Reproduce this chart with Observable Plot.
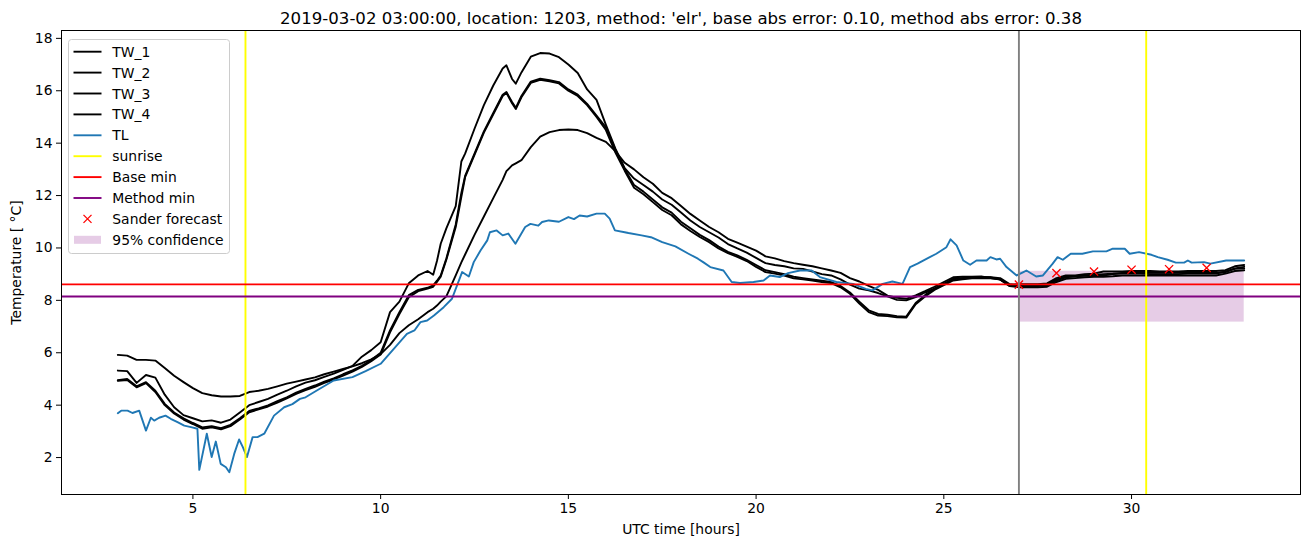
<!DOCTYPE html>
<html><head><meta charset="utf-8">
<script src="https://cdn.jsdelivr.net/npm/d3@7"></script>
<script src="https://cdn.jsdelivr.net/npm/@observablehq/plot@0.6"></script>
<style>
body{margin:0;background:#fff;}
#wrap{position:relative;width:1311px;height:547px;font-family:"DejaVu Sans",sans-serif;}
#legend{position:absolute;left:68px;top:39px;}
</style></head><body><div id="wrap"></div>
<script>
const titleText = "2019-03-02 03:00:00, location: 1203, method: 'elr', base abs error: 0.10, method abs error: 0.38";
const xLabel = "UTC time [hours]";
const yLabel = "Temperature [ °C]";
const xTicks = [5, 10, 15, 20, 25, 30];
const yTicks = [2, 4, 6, 8, 10, 12, 14, 16, 18];

const twHours = [
  3, 3.25, 3.5, 3.75, 4, 4.25, 4.5, 4.75, 5, 5.25,
  5.5, 5.75, 6, 6.25, 6.5, 6.75, 7, 7.25, 7.5, 7.75,
  8, 8.25, 8.5, 8.75, 9, 9.25, 9.5, 9.75, 10, 10.25,
  10.5, 10.75, 11, 11.25, 11.4, 11.5, 11.6, 11.75, 12, 12.15,
  12.25, 12.5, 12.75, 13, 13.25, 13.35, 13.5, 13.6, 13.75, 14,
  14.25, 14.5, 14.75, 15, 15.25, 15.5, 15.75, 16, 16.25, 16.5,
  16.75, 17, 17.25, 17.5, 17.75, 18, 18.25, 18.5, 18.75, 19,
  19.25, 19.5, 19.75, 20, 20.25, 20.5, 20.75, 21, 21.25, 21.5,
  21.75, 22, 22.25, 22.5, 22.75, 23, 23.25, 23.5, 23.75, 24,
  24.25, 24.5, 24.75, 25, 25.25, 25.5, 25.75, 26, 26.25, 26.5,
  26.75, 27, 27.25, 27.5, 27.75, 28, 28.25, 28.5, 28.75, 29,
  29.25, 29.5, 29.75, 30, 30.25, 30.5, 30.75, 31, 31.25, 31.5,
  31.75, 32, 32.25, 32.5, 32.75, 33
];

const tw1 = [
  5.32, 5.30, 4.85, 5.15, 5.05, 4.40, 3.92, 3.62, 3.50, 3.38,
  3.42, 3.33, 3.45, 3.72, 4.00, 4.12, 4.24, 4.40, 4.55, 4.72,
  4.86, 4.95, 5.08, 5.20, 5.35, 5.50, 5.85, 6.10, 6.40, 7.55,
  7.95, 8.65, 8.95, 9.12, 8.98, 9.50, 10.16, 10.75, 11.60, 13.30,
  13.60, 14.55, 15.45, 16.20, 16.85, 16.97, 16.45, 16.27, 16.70, 17.30,
  17.44, 17.42, 17.28, 17.00, 16.68, 16.05, 15.65, 14.70, 13.80, 13.05,
  12.65, 12.40, 12.15, 11.85, 11.65, 11.35, 11.05, 10.80, 10.60, 10.40,
  10.15, 9.98, 9.82, 9.62, 9.42, 9.35, 9.30, 9.22, 9.20, 9.10,
  9.00, 8.95, 8.80, 8.60, 8.45, 8.38, 8.28, 8.15, 8.02, 8.00,
  8.12, 8.30, 8.45, 8.63, 8.82, 8.85, 8.88, 8.88, 8.88, 8.80,
  8.55, 8.55, 8.57, 8.57, 8.60, 8.80, 8.90, 8.92, 8.95, 8.97,
  9.00, 9.02, 9.05, 9.05, 9.05, 9.05, 9.05, 9.05, 9.05, 9.05,
  9.05, 9.05, 9.05, 9.08, 9.22, 9.28
];
const tw2 = [
  4.95, 5.00, 4.72, 4.88, 4.55, 4.05, 3.72, 3.50, 3.32, 3.15,
  3.20, 3.12, 3.25, 3.50, 3.78, 3.88, 3.99, 4.15, 4.30, 4.48,
  4.62, 4.75, 4.90, 5.02, 5.18, 5.33, 5.50, 5.72, 6.00, 6.85,
  7.55, 8.20, 8.40, 8.48, 8.57, 8.75, 8.95, 9.60, 10.90, 12.10,
  12.75, 13.60, 14.45, 15.15, 15.85, 15.95, 15.57, 15.35, 15.80, 16.35,
  16.46, 16.40, 16.33, 16.05, 15.85, 15.50, 15.05, 14.60, 13.75, 13.00,
  12.40, 12.15, 11.85, 11.55, 11.35, 11.00, 10.75, 10.50, 10.30, 10.05,
  9.85, 9.72, 9.55, 9.35, 9.15, 9.08, 9.00, 8.90, 8.85, 8.80,
  8.75, 8.70, 8.55, 8.30, 7.95, 7.62, 7.48, 7.45, 7.40, 7.38,
  7.90, 8.20, 8.45, 8.63, 8.80, 8.85, 8.88, 8.88, 8.88, 8.85,
  8.62, 8.55, 8.55, 8.55, 8.58, 8.75, 8.88, 8.92, 8.95, 8.95,
  8.95, 9.00, 9.02, 9.02, 9.02, 9.00, 9.00, 9.00, 9.00, 9.02,
  9.02, 9.02, 9.02, 9.10, 9.20, 9.22
];
const tw3 = [
  4.93, 4.96, 4.68, 4.84, 4.50, 4.00, 3.68, 3.45, 3.28, 3.10,
  3.15, 3.08, 3.20, 3.45, 3.73, 3.84, 3.95, 4.10, 4.26, 4.43,
  4.57, 4.70, 4.85, 4.98, 5.13, 5.28, 5.46, 5.68, 5.93, 6.78,
  7.48, 8.12, 8.35, 8.45, 8.52, 8.70, 8.90, 9.55, 10.80, 11.95,
  12.70, 13.55, 14.40, 15.10, 15.80, 15.92, 15.52, 15.30, 15.75, 16.30,
  16.42, 16.36, 16.28, 16.00, 15.80, 15.45, 15.00, 14.50, 13.65, 12.95,
  12.30, 12.05, 11.75, 11.45, 11.25, 10.90, 10.65, 10.42, 10.22, 9.98,
  9.80, 9.66, 9.50, 9.28, 9.08, 9.02, 8.95, 8.84, 8.80, 8.76,
  8.70, 8.66, 8.50, 8.25, 7.88, 7.55, 7.42, 7.40, 7.35, 7.34,
  7.85, 8.15, 8.40, 8.58, 8.76, 8.80, 8.84, 8.84, 8.84, 8.80,
  8.55, 8.50, 8.50, 8.50, 8.52, 8.70, 8.82, 8.85, 8.88, 8.90,
  8.90, 8.92, 8.95, 8.95, 8.95, 8.95, 8.95, 8.95, 8.95, 8.95,
  8.95, 8.95, 8.95, 9.02, 9.12, 9.15
];
const tw4 = [
  5.92, 5.89, 5.73, 5.73, 5.70, 5.42, 5.12, 4.88, 4.65, 4.46,
  4.38, 4.33, 4.33, 4.35, 4.50, 4.55, 4.62, 4.72, 4.82, 4.90,
  4.98, 5.06, 5.18, 5.28, 5.38, 5.48, 5.60, 5.75, 5.95, 6.30,
  6.75, 7.05, 7.28, 7.55, 7.68, 7.80, 7.95, 8.15, 8.95, 9.45,
  9.75, 10.50, 11.20, 11.90, 12.60, 12.93, 13.15, 13.23, 13.35, 13.85,
  14.25, 14.42, 14.50, 14.52, 14.50, 14.38, 14.20, 14.05, 13.70, 13.25,
  13.00, 12.70, 12.45, 12.10, 11.90, 11.60, 11.30, 11.05, 10.80, 10.60,
  10.35, 10.20, 10.05, 9.90, 9.68, 9.60, 9.50, 9.42, 9.36, 9.30,
  9.22, 9.14, 9.05, 8.85, 8.72, 8.55, 8.40, 8.18, 8.10, 8.06,
  8.19, 8.35, 8.52, 8.70, 8.88, 8.90, 8.90, 8.91, 8.85, 8.79,
  8.60, 8.62, 8.62, 8.62, 8.65, 8.85, 8.95, 8.95, 9.00, 9.02,
  9.10, 9.10, 9.10, 9.12, 9.12, 9.12, 9.10, 9.10, 9.10, 9.12,
  9.12, 9.12, 9.12, 9.15, 9.30, 9.35
];

const tlHours = [
  3.0, 3.09, 3.26, 3.39, 3.57, 3.75, 3.88, 3.97, 4.1, 4.27,
  4.41, 4.59, 4.77, 4.95, 5.12, 5.17, 5.37, 5.5, 5.61, 5.74,
  5.88, 5.97, 6.1, 6.23, 6.33, 6.44, 6.59, 6.72, 6.9, 7.16,
  7.43, 7.65, 7.85, 8.0, 8.3, 8.75, 9.25, 9.6, 10.0, 10.35,
  10.7, 10.9, 11.06, 11.24, 11.42, 11.68, 11.9, 12.0, 12.17, 12.35,
  12.48, 12.66, 12.84, 12.91, 13.09, 13.25, 13.4, 13.59, 13.85, 13.99,
  14.2, 14.3, 14.48, 14.75, 15.0, 15.15, 15.3, 15.5, 15.75, 15.97,
  16.1, 16.24, 16.5, 16.6, 16.95, 17.2, 17.5, 17.85, 18.2, 18.45,
  18.6, 18.78, 19.13, 19.35, 19.57, 19.93, 20.2, 20.37, 20.63, 20.85,
  21.17, 21.48, 21.7, 22.14, 22.58, 22.92, 23.1, 23.37, 23.63, 23.9,
  24.1, 24.3, 24.55, 24.8, 25.07, 25.18, 25.34, 25.52, 25.7, 25.87,
  26.14, 26.24, 26.4, 26.5, 26.67, 26.94, 27.12, 27.2, 27.46, 27.64,
  27.9, 28.03, 28.17, 28.38, 28.69, 28.97, 29.33, 29.5, 29.82, 29.95,
  30.2, 30.53, 30.7, 30.96, 31.18, 31.4, 31.5, 31.6, 31.93, 32.1,
  32.52, 33.0
];
const tl = [
  3.69, 3.79, 3.79, 3.70, 3.79, 3.03, 3.52, 3.41, 3.52, 3.60,
  3.48, 3.35, 3.22, 3.16, 3.10, 1.53, 2.91, 2.02, 2.61, 1.76,
  1.63, 1.44, 2.14, 2.69, 2.40, 2.02, 2.78, 2.78, 2.91, 3.60,
  3.92, 4.04, 4.24, 4.30, 4.56, 4.94, 5.07, 5.30, 5.58, 6.15,
  6.72, 6.85, 7.17, 7.23, 7.42, 7.74, 8.06, 8.44, 9.08, 8.91,
  9.46, 9.90, 10.29, 10.60, 10.67, 10.48, 10.55, 10.16, 10.80, 10.92,
  10.85, 10.99, 11.05, 11.00, 11.18, 11.10, 11.24, 11.20, 11.31, 11.31,
  11.12, 10.67, 10.60, 10.57, 10.48, 10.41, 10.22, 10.06, 9.78, 9.59,
  9.45, 9.27, 9.14, 8.70, 8.66, 8.70, 8.76, 8.95, 8.89, 9.04,
  9.14, 9.14, 8.89, 8.70, 8.63, 8.44, 8.38, 8.63, 8.72, 8.63,
  9.27, 9.40, 9.59, 9.78, 10.03, 10.33, 10.10, 9.52, 9.36, 9.52,
  9.52, 9.65, 9.56, 9.59, 9.27, 8.95, 9.08, 9.14, 8.91, 8.95,
  9.40, 9.65, 9.55, 9.78, 9.78, 9.87, 9.87, 9.97, 9.97, 9.78,
  9.84, 9.74, 9.65, 9.55, 9.44, 9.44, 9.52, 9.44, 9.46, 9.40,
  9.52, 9.52
];

const sunrise = [6.4, 30.39];
const baseMin = 8.61;
const methodMin = 8.15;
const forecastStart = 27.0;
const sanderHours = [27, 28, 29, 30, 31, 32];
const sanderValues = [8.60, 9.04, 9.10, 9.17, 9.19, 9.24];
const confStart = 27, confEnd = 33, confLow = 7.17, confHigh = 9.11;

const twSeries = [["TW_1", tw1], ["TW_2", tw2], ["TW_3", tw3], ["TW_4", tw4]];
const twData = [];
for (const [name, vals] of twSeries) {
  if (vals.length !== twHours.length) console.error(name, vals.length, twHours.length);
  vals.forEach((v, i) => twData.push({series: name, h: twHours[i], v}));
}
if (tl.length !== tlHours.length) console.error("TL", tl.length, tlHours.length);
const tlData = tl.map((v, i) => ({h: tlHours[i], v}));
const sanderData = sanderValues.map((v, i) => ({h: sanderHours[i], v}));
const confData = [{x1: confStart, x2: confEnd, y1: confLow, y2: confHigh}];

const FS = 13.9;
const chart = Plot.plot({
  width: 1311, height: 547,
  marginLeft: 61, marginRight: 11, marginTop: 30, marginBottom: 53,
  style: {fontFamily: "DejaVu Sans", fontSize: FS + "px", background: "white", color: "black", overflow: "visible"},
  x: {domain: [1.5, 34.5]},
  y: {domain: [0.59, 18.3]},
  marks: [
    Plot.rect(confData, {x1: "x1", x2: "x2", y1: "y1", y2: "y2", fill: "purple", fillOpacity: 0.2}),
    Plot.line(twData, {x: "h", y: "v", z: "series", stroke: "black", strokeWidth: 1.9}),
    Plot.line(tlData, {x: "h", y: "v", stroke: "#1f77b4", strokeWidth: 1.9}),
    Plot.ruleX(sunrise, {stroke: "yellow", strokeWidth: 1.9}),
    Plot.ruleY([baseMin], {stroke: "red", strokeWidth: 1.9}),
    Plot.ruleY([methodMin], {stroke: "purple", strokeWidth: 1.9}),
    Plot.dot(sanderData, {x: "h", y: "v", symbol: "times", stroke: "red", r: 3.8, strokeWidth: 1.3}),
    Plot.ruleX([forecastStart], {stroke: "gray", strokeWidth: 1.9}),
    Plot.frame({stroke: "black", strokeWidth: 1}),
    Plot.axisX(xTicks, {tickSize: 5, tickPadding: 4, fontSize: FS, label: xLabel, labelAnchor: "center", labelArrow: "none", labelOffset: 39}),
    Plot.axisY(yTicks, {tickSize: 5, tickPadding: 4, fontSize: FS, label: yLabel, labelAnchor: "center", labelArrow: "none", labelOffset: 50}),
    Plot.text([titleText], {text: d => d, frameAnchor: "top", dy: -12, fontSize: 16.6, lineAnchor: "middle"})
  ]
});
const wrap = document.getElementById("wrap");
wrap.append(chart);

// legend
const legendItems = [
  {label: "TW_1", kind: "line", color: "black"},
  {label: "TW_2", kind: "line", color: "black"},
  {label: "TW_3", kind: "line", color: "black"},
  {label: "TW_4", kind: "line", color: "black"},
  {label: "TL", kind: "line", color: "#1f77b4"},
  {label: "sunrise", kind: "line", color: "yellow"},
  {label: "Base min", kind: "line", color: "red"},
  {label: "Method min", kind: "line", color: "purple"},
  {label: "Sander forecast", kind: "x", color: "red"},
  {label: "95% confidence", kind: "patch", color: "purple"}
];
const lg = d3.select(wrap).append("svg").attr("id", "legend")
  .attr("width", 162).attr("height", 215)
  .style("font-family", "DejaVu Sans").style("font-size", FS + "px");
lg.append("rect").attr("x", 0.5).attr("y", 0.5).attr("width", 161).attr("height", 214)
  .attr("rx", 3).attr("fill", "white").attr("fill-opacity", 0.8).attr("stroke", "#cccccc");
legendItems.forEach((d, i) => {
  const cy = 12.7 + i * 20.9;
  const g = lg.append("g");
  if (d.kind === "line") {
    g.append("line").attr("x1", 5.5).attr("x2", 33.5).attr("y1", cy).attr("y2", cy)
      .attr("stroke", d.color).attr("stroke-width", 1.9);
  } else if (d.kind === "x") {
    const cx = 19.5, s = 4;
    g.append("path").attr("d", `M${cx - s},${cy - s}L${cx + s},${cy + s}M${cx - s},${cy + s}L${cx + s},${cy - s}`)
      .attr("stroke", d.color).attr("stroke-width", 1.3).attr("fill", "none");
  } else {
    g.append("rect").attr("x", 6).attr("y", cy - 4).attr("width", 27).attr("height", 8)
      .attr("fill", d.color).attr("fill-opacity", 0.2);
  }
  g.append("text").attr("x", 44.3).attr("y", cy).attr("dy", "0.36em").attr("fill", "black").text(d.label);
});
</script>
</body></html>
